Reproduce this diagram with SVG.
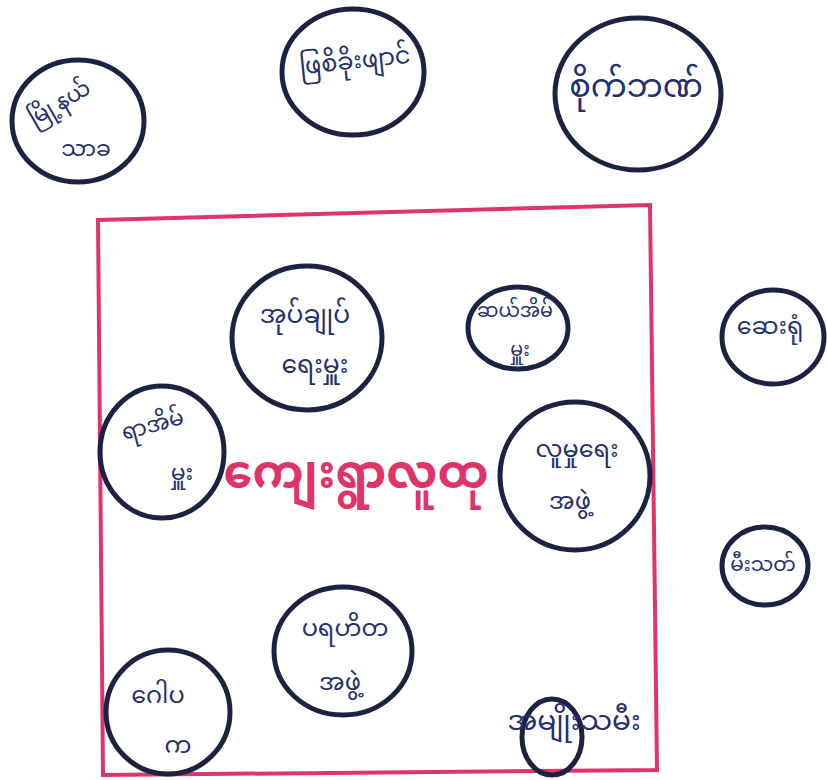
<svg xmlns="http://www.w3.org/2000/svg" width="827" height="780" viewBox="0 0 827 780">
<style>
.c{fill:none;stroke:#1b2340;stroke-width:5}
.t{font-family:"Noto Sans Myanmar","Noto Sans",sans-serif;fill:#24306e;text-anchor:middle;dominant-baseline:middle}
.m{font-family:"Noto Sans Myanmar","Noto Sans",sans-serif;fill:#e0336a;text-anchor:middle;dominant-baseline:middle;font-weight:bold}
</style>
<rect width="827" height="780" fill="#ffffff"/>
<g id="connectors"></g>
<g id="community">
<polygon points="98,220 650,205 657,770 103,775" fill="none" stroke="#e0336a" stroke-width="4"/>
<text class="m" x="356" y="476" font-size="46">ကျေးရွာလူထု</text>
</g>
<g id="n1"><ellipse class="c" cx="78" cy="121" rx="66" ry="61"/>
<text class="t" font-size="22" transform="translate(60,104) rotate(-30)">မြို့နယ်</text>
<text class="t" font-size="22" x="86" y="150">သာခ</text></g>
<g id="n2"><ellipse class="c" cx="353" cy="72" rx="71" ry="63"/>
<text class="t" font-size="24" transform="translate(355,62) rotate(-6)">ဖြစိခိုးဖျာင်</text></g>
<g id="n3"><ellipse class="c" cx="638" cy="94" rx="83" ry="76"/>
<text class="t" font-size="32" x="636" y="88">စိုက်ဘဏ်</text></g>
<g id="n4"><ellipse class="c" cx="307" cy="338" rx="75" ry="72"/>
<text class="t" font-size="25" x="305" y="316">အုပ်ချုပ်</text>
<text class="t" font-size="25" x="315" y="366">ရေးမှူး</text></g>
<g id="n5"><ellipse class="c" cx="518" cy="328" rx="50" ry="41"/>
<text class="t" font-size="19" x="515" y="312">ဆယ်အိမ်</text>
<text class="t" font-size="19" x="520" y="351">မှူး</text></g>
<g id="n6"><ellipse class="c" cx="773" cy="337" rx="51" ry="47"/>
<text class="t" font-size="24" x="770" y="328">ဆေးရုံ</text></g>
<g id="n7"><ellipse class="c" cx="162" cy="452" rx="62" ry="66"/>
<text class="t" font-size="22" transform="translate(153,426) rotate(-15)">ရာအိမ်</text>
<text class="t" font-size="22" x="182" y="474">မှူး</text></g>
<g id="n8"><ellipse class="c" cx="575" cy="476" rx="75" ry="74"/>
<text class="t" font-size="24" x="577" y="451">လူမှုရေး</text>
<text class="t" font-size="24" x="570" y="503">အဖွဲ့</text></g>
<g id="n9"><ellipse class="c" cx="765" cy="566" rx="43" ry="39"/>
<text class="t" font-size="20" x="763" y="566">မီးသတ်</text></g>
<g id="n10"><ellipse class="c" cx="343" cy="651" rx="69" ry="64"/>
<text class="t" font-size="24" x="345" y="630">ပရဟိတ</text>
<text class="t" font-size="24" x="340" y="684">အဖွဲ့</text></g>
<g id="n11"><ellipse class="c" cx="168" cy="712" rx="62" ry="62"/>
<text class="t" font-size="24" x="158" y="697">ဂေါပ</text>
<text class="t" font-size="24" x="178" y="747">က</text></g>
<g id="n12"><ellipse class="c" cx="552" cy="737" rx="30" ry="38"/>
<text class="t" font-size="28" x="574" y="722">အမျိုးသမီး</text></g>
</svg>
